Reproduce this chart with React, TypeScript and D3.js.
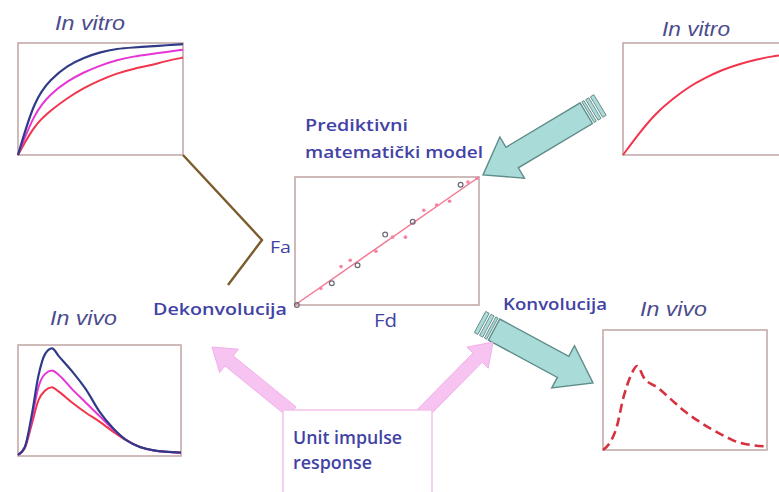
import { useEffect, useRef } from "react"
import * as d3 from "d3"

// in vitro dissolution (fraction dissolved vs time)
const vitroTime = [0, 1, 2, 3, 4, 5, 6, 7, 8, 9, 10]
const vitroBlue = [0, 0.5, 0.68, 0.8, 0.87, 0.92, 0.95, 0.96, 0.97, 0.98, 0.99]
const vitroMagenta = [0, 0.38, 0.55, 0.66, 0.74, 0.8, 0.85, 0.88, 0.9, 0.92, 0.94]
const vitroRed = [0, 0.27, 0.4, 0.51, 0.6, 0.67, 0.73, 0.77, 0.8, 0.84, 0.87]
const vitroNew = [0, 0.2, 0.375, 0.5, 0.61, 0.69, 0.76, 0.81, 0.85, 0.88, 0.9]

// in vivo plasma profiles
const vivoTime = [0, 0.5, 1, 1.5, 2, 2.5, 3, 4, 5, 6, 7, 8, 9, 10, 12]
const vivoBlue = [0.01, 0.08, 0.36, 0.72, 0.92, 0.97, 0.9, 0.76, 0.6, 0.4, 0.25, 0.14, 0.08, 0.05, 0.03]
const vivoMagenta = [0.01, 0.08, 0.32, 0.62, 0.74, 0.77, 0.73, 0.6, 0.48, 0.36, 0.24, 0.14, 0.08, 0.05, 0.03]
const vivoRed = [0.01, 0.07, 0.28, 0.5, 0.59, 0.62, 0.58, 0.48, 0.39, 0.31, 0.22, 0.14, 0.08, 0.05, 0.03]
const vivoPredicted = [0, 0.06, 0.19, 0.44, 0.61, 0.7, 0.6, 0.52, 0.42, 0.32, 0.24, 0.17, 0.11, 0.06, 0.03]

// IVIVC: Fa vs Fd
const fdGrey = [0.01, 0.2, 0.34, 0.49, 0.64, 0.9]
const faGrey = [0, 0.17, 0.31, 0.55, 0.65, 0.94]
const fdPink = [0.14, 0.25, 0.3, 0.44, 0.53, 0.6, 0.7, 0.77, 0.84, 0.94, 0.99]
const faPink = [0.13, 0.3, 0.35, 0.42, 0.53, 0.53, 0.74, 0.78, 0.81, 0.96, 0.99]

const FRAME = "#c4aaa8"
const LABEL = "#4242a6"
const TITLE = "#4c4c8c"
const BLUE = "#2f3b86"
const MAGENTA = "#e535d6"
const RED = "#f2344c"

type Box = { x0: number; x1: number; y0: number; y1: number }

function arrowPoints(
  tail: [number, number],
  tip: [number, number],
  shaftW: number,
  headW: number,
  headLen: number
) {
  const dx = tip[0] - tail[0]
  const dy = tip[1] - tail[1]
  const len = Math.hypot(dx, dy)
  const ux = dx / len
  const uy = dy / len
  const nx = -uy
  const ny = ux
  const bx = tip[0] - ux * headLen
  const by = tip[1] - uy * headLen
  const p = (x: number, y: number, s: number) => [x + nx * s, y + ny * s]
  return [
    p(tail[0], tail[1], shaftW / 2),
    p(bx, by, shaftW / 2),
    p(bx, by, headW / 2),
    tip,
    p(bx, by, -headW / 2),
    p(bx, by, -shaftW / 2),
    p(tail[0], tail[1], -shaftW / 2),
  ]
    .map(d => d.join(","))
    .join(" ")
}

export default function App() {
  const svgRef = useRef<SVGSVGElement>(null)

  useEffect(() => {
    if (!svgRef.current) return
    const svg = d3.select(svgRef.current)
    svg.selectAll("*").remove()

    const clip = svg.append("defs").append("clipPath").attr("id", "page")
    clip.append("rect").attr("width", 779).attr("height", 492)
    const root = svg.append("g").attr("clip-path", "url(#page)")

    const frame = (b: Box) =>
      root
        .append("rect")
        .attr("x", b.x0)
        .attr("y", b.y0)
        .attr("width", b.x1 - b.x0)
        .attr("height", b.y1 - b.y0)
        .attr("fill", "white")
        .attr("stroke", FRAME)
        .attr("stroke-width", 1.6)

    const drawCurve = (
      b: Box,
      xs: number[],
      ys: number[],
      xMax: number,
      color: string,
      width: number,
      curve: d3.CurveFactory,
      dash?: string
    ) => {
      const x = d3.scaleLinear().domain([0, xMax]).range([b.x0, b.x1])
      const y = d3.scaleLinear().domain([0, 1]).range([b.y1, b.y0])
      const line = d3
        .line<number>()
        .x((_, i) => x(xs[i]))
        .y(d => y(d))
        .curve(curve)
      root
        .append("path")
        .datum(ys)
        .attr("fill", "none")
        .attr("stroke", color)
        .attr("stroke-width", width)
        .attr("stroke-dasharray", dash ?? null)
        .attr("stroke-linejoin", "round")
        .attr("d", line)
    }

    // text fitted to the width it has in the picture
    const text = (
      s: string,
      x: number,
      y: number,
      w: number,
      size: number,
      color: string,
      style: "title" | "bold" | "plain" = "bold"
    ) =>
      root
        .append("text")
        .attr("x", x)
        .attr("y", y)
        .attr("font-family", style === "title" ? "'Liberation Sans', sans-serif" : "'Open Sans', sans-serif")
        .attr("font-size", size)
        .attr("font-style", style === "title" ? "italic" : "normal")
        .attr("font-weight", style === "bold" ? 600 : 400)
        .attr("textLength", w)
        .attr("lengthAdjust", "spacingAndGlyphs")
        .attr("fill", color)
        .text(s)

    // in vitro, reference formulations
    const vitroL = { x0: 18, x1: 183, y0: 43, y1: 155 }
    frame(vitroL)
    drawCurve(vitroL, vitroTime, vitroRed, 10, RED, 2, d3.curveBasis)
    drawCurve(vitroL, vitroTime, vitroMagenta, 10, MAGENTA, 2, d3.curveBasis)
    drawCurve(vitroL, vitroTime, vitroBlue, 10, BLUE, 2.2, d3.curveBasis)
    text("In vitro", 55, 30, 70, 19.5, TITLE, "title")

    // in vitro, new formulation
    const vitroR = { x0: 623, x1: 788, y0: 43, y1: 155 }
    frame(vitroR)
    drawCurve(vitroR, vitroTime, vitroNew, 10, RED, 2, d3.curveBasis)
    text("In vitro", 662, 36, 68, 19.5, TITLE, "title")

    // in vivo, reference formulations
    const vivoL = { x0: 18, x1: 181, y0: 345, y1: 456 }
    frame(vivoL)
    drawCurve(vivoL, vivoTime, vivoRed, 12, RED, 2, d3.curveMonotoneX)
    drawCurve(vivoL, vivoTime, vivoMagenta, 12, MAGENTA, 2, d3.curveMonotoneX)
    drawCurve(vivoL, vivoTime, vivoBlue, 12, BLUE, 2.2, d3.curveMonotoneX)
    text("In vivo", 50, 325, 67, 19.5, TITLE, "title")

    // in vivo, predicted
    const vivoR = { x0: 603, x1: 767, y0: 330, y1: 450 }
    frame(vivoR)
    drawCurve(vivoR, vivoTime, vivoPredicted, 12, "#d8303e", 2.6, d3.curveMonotoneX, "9,5")
    text("In vivo", 640, 316, 67, 19.5, TITLE, "title")

    // correlation Fa vs Fd
    const corr = { x0: 295, x1: 479, y0: 177, y1: 305 }
    frame(corr)
    const fx = d3.scaleLinear().domain([0, 1]).range([corr.x0, corr.x1])
    const fy = d3.scaleLinear().domain([0, 1]).range([corr.y1, corr.y0])
    root
      .append("line")
      .attr("x1", fx(0))
      .attr("y1", fy(0))
      .attr("x2", fx(1))
      .attr("y2", fy(1))
      .attr("stroke", "#f27a92")
      .attr("stroke-width", 1.5)
    root
      .selectAll(".pink")
      .data(fdPink)
      .enter()
      .append("circle")
      .attr("cx", d => fx(d))
      .attr("cy", (_, i) => fy(faPink[i]))
      .attr("r", 1.8)
      .attr("fill", "#f4849e")
    root
      .selectAll(".grey")
      .data(fdGrey)
      .enter()
      .append("circle")
      .attr("cx", d => fx(d))
      .attr("cy", (_, i) => fy(faGrey[i]))
      .attr("r", 2.4)
      .attr("fill", "none")
      .attr("stroke", "#6a6a78")
      .attr("stroke-width", 1.2)
    text("Fa", 270, 253, 21, 17, LABEL, "plain")
    text("Fd", 374, 327, 23, 18, LABEL, "plain")

    // brown connector
    root
      .append("polyline")
      .attr("points", "183,155 262,240 228,285")
      .attr("fill", "none")
      .attr("stroke", "#7c5c2c")
      .attr("stroke-width", 2.4)

    // teal block arrows
    const teal = (tail: [number, number], tip: [number, number]) => {
      const dx = tip[0] - tail[0]
      const dy = tip[1] - tail[1]
      const len = Math.hypot(dx, dy)
      const u = [dx / len, dy / len]
      const start: [number, number] = [tail[0] + u[0] * 16, tail[1] + u[1] * 16]
      root
        .append("polygon")
        .attr("points", arrowPoints(start, tip, 24, 48, 34))
        .attr("fill", "#a9dbd8")
        .attr("stroke", "#5e8c8a")
        .attr("stroke-width", 1.4)
      // striped tail
      ;[[0, 4], [6, 9.5], [11.5, 14]].forEach(([a, b]) => {
        const s: [number, number] = [tail[0] + u[0] * a, tail[1] + u[1] * a]
        const e: [number, number] = [tail[0] + u[0] * b, tail[1] + u[1] * b]
        root
          .append("polygon")
          .attr("points", arrowPoints(s, e, 24, 24, 0.01))
          .attr("fill", "#a9dbd8")
          .attr("stroke", "#6e8e8c")
          .attr("stroke-width", 1)
      })
    }
    teal([600, 105], [483, 175])
    teal([480, 322], [593, 383])

    // pink arrows and impulse box
    const pink = (tail: [number, number], tip: [number, number]) =>
      root
        .append("polygon")
        .attr("points", arrowPoints(tail, tip, 13, 30, 22))
        .attr("fill", "#f7c4f2")
        .attr("stroke", "#f0b0ea")
        .attr("stroke-width", 1)
    pink([292, 412], [212, 347])
    pink([422, 414], [493, 342])

    root
      .append("rect")
      .attr("x", 283)
      .attr("y", 410)
      .attr("width", 149)
      .attr("height", 100)
      .attr("fill", "white")
      .attr("stroke", "#f2c2ea")
      .attr("stroke-width", 1.5)
    text("Unit impulse", 293, 444, 109, 18, LABEL)
    text("response", 293, 469, 79, 18, LABEL)

    // method labels
    text("Prediktivni", 305, 131, 103, 17, LABEL)
    text("matematički model", 305, 158, 178, 17, LABEL)
    text("Dekonvolucija", 153, 315, 134, 17, LABEL)
    text("Konvolucija", 503, 310, 104, 17, LABEL)
  }, [])

  return (
    <svg
      ref={svgRef}
      width={779}
      height={492}
      style={{ position: "absolute", left: 0, top: 0, background: "white" }}
    />
  )
}
